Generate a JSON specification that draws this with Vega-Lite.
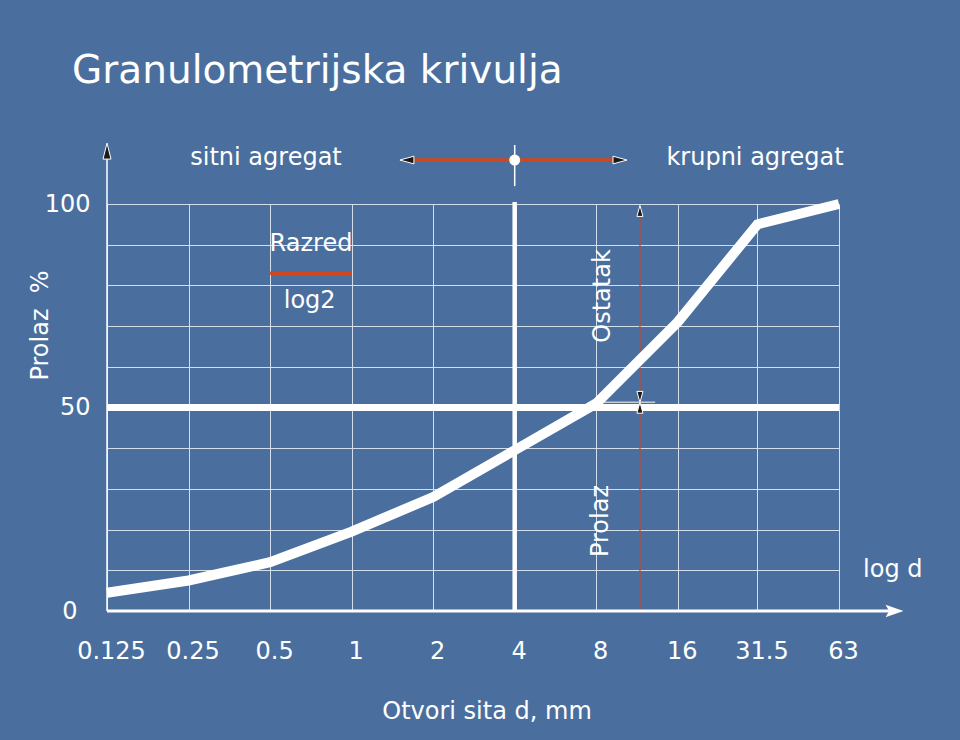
{
  "$schema": "https://vega.github.io/schema/vega-lite/v6.json",
  "width": 732,
  "height": 407,
  "autosize": {"type": "none"},
  "padding": {"left": 107, "top": 204, "right": 121, "bottom": 129},
  "background": "#4a6f9e",
  "config": {
    "view": {"stroke": null},
    "font": "DejaVu Sans",
    "text": {"font": "DejaVu Sans", "color": "white"}
  },
  "datasets": {
    "curve": [
      {"d": 0.125, "p": 4.5},
      {"d": 0.25, "p": 7.5},
      {"d": 0.5, "p": 12},
      {"d": 1, "p": 19.5},
      {"d": 2, "p": 28},
      {"d": 4, "p": 39.5},
      {"d": 8, "p": 51},
      {"d": 16, "p": 71},
      {"d": 31.5, "p": 95},
      {"d": 63, "p": 100}
    ],
    "hlines": [
      {"name": "p50", "d": 0.125, "d2": 63, "p": 50},
      {"name": "xaxis", "d": 0.125, "d2": 100, "p": 0},
      {"name": "split", "d": 1.62, "d2": 9.7, "p": 110.8},
      {"name": "razred", "d": 0.5, "d2": 1, "p": 83},
      {"name": "intersect", "d": 8.4, "d2": 13.2, "p": 51.3}
    ],
    "vlines": [
      {"name": "d4", "d": 4, "p": 0, "p2": 100.5},
      {"name": "yaxis", "d": 0.125, "p": 0, "p2": 111},
      {"name": "boundary", "d": 11.6, "p": 0, "p2": 98},
      {"name": "splitTick", "d": 4, "p": 104.4, "p2": 114.5}
    ],
    "arrows": [
      {"name": "yaxis", "dir": "up", "d": 0.125, "p": 113},
      {"name": "xaxis", "dir": "right", "d": 101, "p": 0},
      {"name": "split", "dir": "left", "d": 1.6, "p": 110.8},
      {"name": "split", "dir": "right", "d": 9.79, "p": 110.8},
      {"name": "boundary", "dir": "up", "d": 11.6, "p": 98.3},
      {"name": "boundary", "dir": "down", "d": 11.6, "p": 52.6},
      {"name": "boundary", "dir": "up", "d": 11.6, "p": 49.95}
    ],
    "dots": [
      {"d": 4, "p": 110.8}
    ],
    "texts": [
      {"role": "title", "label": "Granulometrijska krivulja", "d": 0.0929, "p": 129.7},
      {"role": "center", "label": "sitni agregat", "d": 0.483, "p": 109.6},
      {"role": "center", "label": "krupni agregat", "d": 30.85, "p": 109.6},
      {"role": "center", "label": "Razred", "d": 0.708, "p": 88.45},
      {"role": "center", "label": "log2", "d": 0.7, "p": 74.4},
      {"role": "left", "label": "log d", "d": 77.3, "p": 8.35},
      {"role": "rotated", "label": "Ostatak", "d": 8.99, "p": 77.4},
      {"role": "rotated", "label": "Prolaz", "d": 8.84, "p": 22.1}
    ]
  },
  "encoding": {
    "x": {
      "field": "d",
      "type": "quantitative",
      "scale": {"type": "log", "base": 2, "domain": [0.125, 63], "nice": false},
      "axis": {
        "values": [0.125, 0.25, 0.5, 1, 2, 4, 8, 16, 31.5, 63],
        "format": "~g",
        "grid": true,
        "gridColor": "#d3deeb",
        "gridWidth": 1,
        "domain": false,
        "ticks": false,
        "labelPadding": 47,
        "labelBaseline": "alphabetic",
        "labelFont": "DejaVu Sans",
        "labelFontSize": 24,
        "labelColor": "white",
        "labelOffset": 4,
        "labelFlush": false,
        "labelOverlap": false,
        "labelBound": false,
        "title": "Otvori sita d, mm",
        "titleFont": "DejaVu Sans",
        "titleFontSize": 24,
        "titleFontWeight": "normal",
        "titleColor": "white",
        "titleX": 379.5,
        "titleY": 107,
        "titleAlign": "center",
        "titleBaseline": "alphabetic"
      }
    },
    "y": {
      "field": "p",
      "type": "quantitative",
      "scale": {"domain": [0, 100], "nice": false, "zero": false},
      "axis": {
        "values": [0, 10, 20, 30, 40, 50, 60, 70, 80, 90, 100],
        "labelExpr": "datum.value % 50 === 0 ? datum.label : ''",
        "grid": true,
        "gridColor": "#d3deeb",
        "gridWidth": 1,
        "domain": false,
        "ticks": false,
        "labelPadding": {"condition": {"test": "datum.value === 0", "value": 30}, "value": 17},
        "labelBaseline": "alphabetic",
        "labelOffset": 7,
        "labelFont": "DejaVu Sans",
        "labelFontSize": 24,
        "labelColor": "white",
        "labelOverlap": false,
        "labelBound": false,
        "labelFlush": false,
        "title": "Prolaz \u00a0%",
        "titleFont": "DejaVu Sans",
        "titleFontSize": 24,
        "titleFontWeight": "normal",
        "titleColor": "white",
        "titleAngle": -90,
        "titleX": -60,
        "titleY": 121,
        "titleAlign": "center",
        "titleBaseline": "alphabetic"
      }
    }
  },
  "layer": [
    {
      "data": {"name": "hlines"},
      "transform": [{"filter": "datum.name === 'intersect'"}],
      "mark": {"type": "rule", "color": "#c4ccd8", "strokeWidth": 1.5},
      "encoding": {"x2": {"field": "d2"}}
    },
    {
      "data": {"name": "vlines"},
      "transform": [{"filter": "datum.name === 'boundary'"}],
      "mark": {"type": "rule", "color": "#b84a32", "strokeWidth": 1.3},
      "encoding": {"y2": {"field": "p2"}}
    },
    {
      "data": {"name": "vlines"},
      "transform": [{"filter": "datum.name === 'yaxis' || datum.name === 'splitTick'"}],
      "mark": {"type": "rule", "color": "white", "strokeWidth": 1.5},
      "encoding": {"y2": {"field": "p2"}}
    },
    {
      "data": {"name": "vlines"},
      "transform": [{"filter": "datum.name === 'd4'"}],
      "mark": {"type": "rule", "color": "white", "strokeWidth": 4.5},
      "encoding": {"y2": {"field": "p2"}}
    },
    {
      "data": {"name": "hlines"},
      "transform": [{"filter": "datum.name === 'p50'"}],
      "mark": {"type": "rule", "color": "white", "strokeWidth": 7},
      "encoding": {"x2": {"field": "d2"}}
    },
    {
      "data": {"name": "hlines"},
      "transform": [{"filter": "datum.name === 'xaxis'"}],
      "mark": {"type": "rule", "color": "white", "strokeWidth": 3},
      "encoding": {"x2": {"field": "d2"}}
    },
    {
      "data": {"name": "hlines"},
      "transform": [{"filter": "datum.name === 'split' || datum.name === 'razred'"}],
      "mark": {"type": "rule", "color": "#d2461e", "strokeWidth": 3.5},
      "encoding": {"x2": {"field": "d2"}}
    },
    {
      "data": {"name": "curve"},
      "mark": {"type": "line", "color": "white", "strokeWidth": 10, "strokeCap": "butt", "strokeJoin": "miter"}
    },
    {
      "data": {"name": "dots"},
      "mark": {"type": "point", "shape": "circle", "filled": true, "color": "white", "opacity": 1, "size": 120}
    },
    {
      "data": {"name": "arrows"},
      "transform": [{"filter": "datum.name === 'yaxis'"}],
      "mark": {"type": "point", "shape": "M0,-1L0.5,1L-0.5,1Z", "filled": true, "fill": "#1a1a1a", "stroke": "white", "strokeWidth": 1, "opacity": 1, "size": 256}
    },
    {
      "data": {"name": "arrows"},
      "transform": [{"filter": "datum.name === 'xaxis'"}],
      "mark": {"type": "point", "shape": "M1,0L-1,-0.7L-0.6,0L-1,0.7Z", "filled": true, "fill": "white", "opacity": 1, "size": 324}
    },
    {
      "data": {"name": "arrows"},
      "transform": [{"filter": "datum.name === 'split' && datum.dir === 'left'"}],
      "mark": {"type": "point", "shape": "M-1,0L1,-0.55L1,0.55Z", "filled": true, "fill": "#1a1a1a", "stroke": "white", "strokeWidth": 1, "opacity": 1, "size": 196}
    },
    {
      "data": {"name": "arrows"},
      "transform": [{"filter": "datum.name === 'split' && datum.dir === 'right'"}],
      "mark": {"type": "point", "shape": "M1,0L-1,-0.55L-1,0.55Z", "filled": true, "fill": "#1a1a1a", "stroke": "white", "strokeWidth": 1, "opacity": 1, "size": 196}
    },
    {
      "data": {"name": "arrows"},
      "transform": [{"filter": "datum.name === 'boundary' && datum.dir === 'up'"}],
      "mark": {"type": "point", "shape": "M0,-1L0.55,1L-0.55,1Z", "filled": true, "fill": "#1a1a1a", "stroke": "white", "strokeWidth": 1, "opacity": 1, "size": 121}
    },
    {
      "data": {"name": "arrows"},
      "transform": [{"filter": "datum.name === 'boundary' && datum.dir === 'down'"}],
      "mark": {"type": "point", "shape": "M0,1L0.55,-1L-0.55,-1Z", "filled": true, "fill": "#1a1a1a", "stroke": "white", "strokeWidth": 1, "opacity": 1, "size": 121}
    },
    {
      "data": {"name": "texts"},
      "transform": [{"filter": "datum.role === 'title'"}],
      "mark": {"type": "text", "align": "left", "baseline": "alphabetic", "fontSize": 39, "font": "DejaVu Sans", "color": "white"},
      "encoding": {"text": {"field": "label"}}
    },
    {
      "data": {"name": "texts"},
      "transform": [{"filter": "datum.role === 'center'"}],
      "mark": {"type": "text", "align": "center", "baseline": "alphabetic", "fontSize": 24, "font": "DejaVu Sans", "color": "white"},
      "encoding": {"text": {"field": "label"}}
    },
    {
      "data": {"name": "texts"},
      "transform": [{"filter": "datum.role === 'left'"}],
      "mark": {"type": "text", "align": "left", "baseline": "alphabetic", "fontSize": 24, "font": "DejaVu Sans", "color": "white"},
      "encoding": {"text": {"field": "label"}}
    },
    {
      "data": {"name": "texts"},
      "transform": [{"filter": "datum.role === 'rotated'"}],
      "mark": {"type": "text", "align": "center", "baseline": "alphabetic", "angle": 270, "fontSize": 24, "font": "DejaVu Sans", "color": "white"},
      "encoding": {"text": {"field": "label"}}
    }
  ]
}
